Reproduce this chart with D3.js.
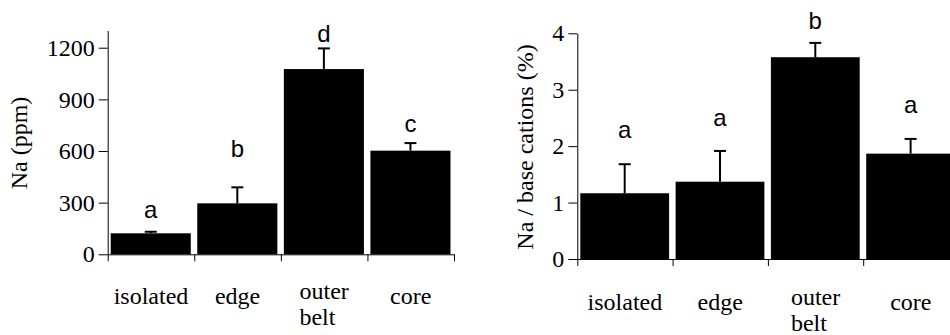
<!DOCTYPE html>
<html>
<head>
<meta charset="utf-8">
<script src="https://cdn.jsdelivr.net/npm/d3@7"></script>
<style>
  body { margin: 0; background: #fff; }
  svg { display: block; }
  .serif { font-family: "Liberation Serif", "Times New Roman", Times, "DejaVu Serif", serif; }
  .sans { font-family: "Liberation Sans", Arial, Helvetica, sans-serif; }
</style>
</head>
<body>
<svg id="chart" width="950" height="335"></svg>
<script>
const categories = ["isolated", "edge", "outer belt", "core"];

// left panel: Na concentration
const naPpm = [122, 296, 1076, 602];
const naPpmErr = [9, 93, 120, 44];
const naPpmLetters = ["a", "b", "d", "c"];
const naPpmLetterAt = [209, 563, 1235, 712];
const ppmTicks = [0, 300, 600, 900, 1200];

// right panel: Na share of base cations
const naRatio = [1.165, 1.37, 3.576, 1.867];
const naRatioErr = [0.515, 0.545, 0.254, 0.261];
const naRatioLetters = ["a", "a", "b", "a"];
const naRatioLetterAt = [2.15, 2.36, 4.07, 2.58];
const ratioTicks = [0, 1, 2, 3, 4];

const svg = d3.select("#chart");

function drawPanel(opt) {
  const g = svg.append("g");

  const x = d3.scaleBand()
    .domain(categories)
    .range([opt.x0, opt.x1])
    .padding(0);

  const y = d3.scaleLinear()
    .domain(opt.yDomain)
    .range([opt.yBottom, opt.yTop]);

  // bars
  g.selectAll(".bar")
    .data(opt.values)
    .enter()
    .append("rect")
    .attr("x", (d, i) => x(categories[i]) + 3)
    .attr("width", x.bandwidth() - 6.5)
    .attr("y", d => y(d))
    .attr("height", d => y(0) - y(d))
    .attr("fill", "#000");

  // error bars (upper only)
  const cx = i => x(categories[i]) + 3 + (x.bandwidth() - 6.5) / 2;
  g.selectAll(".err")
    .data(opt.values)
    .enter()
    .append("line")
    .attr("x1", (d, i) => cx(i))
    .attr("x2", (d, i) => cx(i))
    .attr("y1", d => y(d))
    .attr("y2", (d, i) => y(d + opt.errors[i]))
    .attr("stroke", "#000")
    .attr("stroke-width", 2);

  g.selectAll(".cap")
    .data(opt.values)
    .enter()
    .append("line")
    .attr("x1", (d, i) => cx(i) - 6)
    .attr("x2", (d, i) => cx(i) + 6)
    .attr("y1", (d, i) => y(d + opt.errors[i]))
    .attr("y2", (d, i) => y(d + opt.errors[i]))
    .attr("stroke", "#000")
    .attr("stroke-width", 2);

  // significance letters
  g.selectAll(".letter")
    .data(opt.letters)
    .enter()
    .append("text")
    .attr("class", "sans")
    .attr("x", (d, i) => cx(i))
    .attr("y", (d, i) => y(opt.letterAt[i]))
    .attr("text-anchor", "middle")
    .style("font-size", "24px")
    .attr("fill", "#000")
    .text(d => d);

  // y axis
  const yAxis = g.append("g")
    .attr("transform", `translate(${opt.x0},0)`)
    .call(d3.axisLeft(y).tickValues(opt.ticks).tickFormat(d3.format("d"))
      .tickSize(9).tickSizeOuter(0).tickPadding(4));
  yAxis.attr("font-family", null).attr("font-size", null);
  yAxis.selectAll("text")
    .attr("class", "serif")
    .style("font-size", "24px")
    .attr("fill", "#000");

  // x axis: ticks at band boundaries
  const xb = d3.scaleLinear().domain([0, categories.length]).range([opt.x0, opt.x1]);
  g.append("g")
    .attr("transform", `translate(0,${y(0)})`)
    .call(d3.axisBottom(xb).tickValues(d3.range(categories.length + 1)).tickFormat("").tickSize(7).tickSizeOuter(0));

  g.selectAll(".domain, .tick line").attr("stroke", "#000").attr("stroke-width", 1);

  // category labels
  categories.forEach((c, i) => {
    const words = c.split(" ");
    const mid = x(c) + x.bandwidth() / 2;
    if (words.length === 1) {
      g.append("text")
        .attr("class", "serif")
        .attr("x", mid)
        .attr("y", y(0) + opt.labelGap)
        .attr("text-anchor", "middle")
        .style("font-size", "24px")
        .text(c);
    } else {
      const t = g.append("text")
        .attr("class", "serif")
        .style("font-size", "24px");
      words.forEach((w, k) => {
        t.append("tspan")
          .attr("y", y(0) + opt.labelGap - 5 + k * 26)
          .text(w);
      });
      const w0 = t.select("tspan").node().getComputedTextLength();
      t.selectAll("tspan").attr("x", mid - w0 / 2);
    }
  });

  // axis title
  g.append("text")
    .attr("class", "serif")
    .attr("transform", `translate(${opt.titleX},${opt.titleY}) rotate(-90)`)
    .attr("text-anchor", "middle")
    .style("font-size", "24px")
    .text(opt.title);
}

drawPanel({
  values: naPpm,
  errors: naPpmErr,
  letters: naPpmLetters,
  letterAt: naPpmLetterAt,
  ticks: ppmTicks,
  yDomain: [0, 1300],
  x0: 107.7, x1: 454,
  yBottom: 254.3, yTop: 30.5,
  labelGap: 50,
  title: "Na (ppm)",
  titleX: 27, titleY: 143
});

drawPanel({
  values: naRatio,
  errors: naRatioErr,
  letters: naRatioLetters,
  letterAt: naRatioLetterAt,
  ticks: ratioTicks,
  yDomain: [0, 4],
  x0: 577.3, x1: 958.5,
  yBottom: 259, yTop: 33.3,
  labelGap: 51,
  title: "Na / base cations (%)",
  titleX: 533, titleY: 147
});
</script>
</body>
</html>
